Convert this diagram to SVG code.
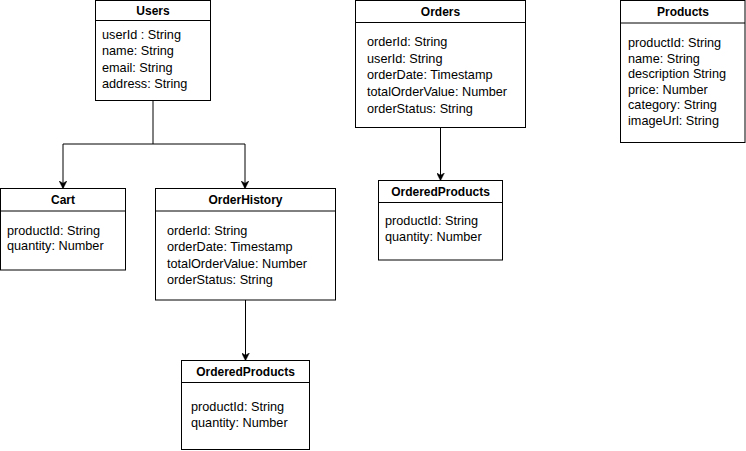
<svg xmlns="http://www.w3.org/2000/svg" width="746" height="451" viewBox="0 0 746 451">
<style>
rect.box{fill:#fff;stroke:#000;stroke-width:1}
line.hd{stroke:#000;stroke-width:1}
text{font-family:"Liberation Sans",Arial,sans-serif;font-size:12.7px;fill:#000}
text.t{font-weight:bold;font-size:12px;text-anchor:middle}
.conn path{fill:none;stroke:#000;stroke-width:1}
</style>
<defs>
<marker id="arr" viewBox="0 0 10 10" refX="9" refY="5" markerWidth="8" markerHeight="8" markerUnits="userSpaceOnUse" orient="auto">
<path d="M0,0 L10,5 L0,10 L3,5 Z" fill="#000" stroke="#000" stroke-width="0.5"/>
</marker>
</defs>
<rect width="746" height="451" fill="#fff"/>
<g class="conn" id="connectors">
<path d="M153,100.5 V144"/>
<path d="M153,144 H63 V188" marker-end="url(#arr)"/>
<path d="M153,144 H245 V188" marker-end="url(#arr)"/>
<path d="M245.5,300 V360" marker-end="url(#arr)"/>
<path d="M440.5,127.5 V180" marker-end="url(#arr)"/>
</g>
<g id="users">
<rect class="box" x="95.5" y="0.5" width="115" height="100"/>
<line class="hd" x1="95.5" y1="20.5" x2="210.5" y2="20.5"/>
<text class="t" x="153" y="14.5">Users</text>
<text x="102" y="38.5">userId : String</text>
<text x="102" y="55">name: String</text>
<text x="102" y="71.5">email: String</text>
<text x="102" y="88">address: String</text>
</g>
<g id="cart">
<rect class="box" x="0.5" y="188.5" width="125" height="81.5"/>
<line class="hd" x1="0.5" y1="211" x2="125.5" y2="211"/>
<text class="t" x="63" y="204">Cart</text>
<text x="7" y="234.5">productId: String</text>
<text x="7" y="250">quantity: Number</text>
</g>
<g id="orderhistory">
<rect class="box" x="155.5" y="188.5" width="180" height="111.5"/>
<line class="hd" x1="155.5" y1="211" x2="335.5" y2="211"/>
<text class="t" x="245.5" y="204">OrderHistory</text>
<text x="167" y="234.5">orderId: String</text>
<text x="167" y="251">orderDate: Timestamp</text>
<text x="167" y="267.5">totalOrderValue: Number</text>
<text x="167" y="284">orderStatus: String</text>
</g>
<g id="orderedproducts1">
<rect class="box" x="181.5" y="360.5" width="128" height="89"/>
<line class="hd" x1="181.5" y1="382.5" x2="309.5" y2="382.5"/>
<text class="t" x="245.5" y="376">OrderedProducts</text>
<text x="191" y="411">productId: String</text>
<text x="191" y="426.5">quantity: Number</text>
</g>
<g id="orders">
<rect class="box" x="355.5" y="0.5" width="170" height="127"/>
<line class="hd" x1="355.5" y1="22.5" x2="525.5" y2="22.5"/>
<text class="t" x="440.5" y="16">Orders</text>
<text x="367" y="46">orderId: String</text>
<text x="367" y="62.5">userId: String</text>
<text x="367" y="79">orderDate: Timestamp</text>
<text x="367" y="96">totalOrderValue: Number</text>
<text x="367" y="112.5">orderStatus: String</text>
</g>
<g id="orderedproducts2">
<rect class="box" x="378.5" y="180.5" width="124" height="79.5"/>
<line class="hd" x1="378.5" y1="202.5" x2="502.5" y2="202.5"/>
<text class="t" x="440.5" y="196">OrderedProducts</text>
<text x="385" y="224.5">productId: String</text>
<text x="385" y="241">quantity: Number</text>
</g>
<g id="products">
<rect class="box" x="620.5" y="0.5" width="124.5" height="142"/>
<line class="hd" x1="620.5" y1="23" x2="745" y2="23"/>
<text class="t" x="683" y="16">Products</text>
<text x="628" y="47">productId: String</text>
<text x="628" y="62.5">name: String</text>
<text x="628" y="78">description String</text>
<text x="628" y="93.5">price: Number</text>
<text x="628" y="109">category: String</text>
<text x="628" y="124.5">imageUrl: String</text>
</g>
</svg>
